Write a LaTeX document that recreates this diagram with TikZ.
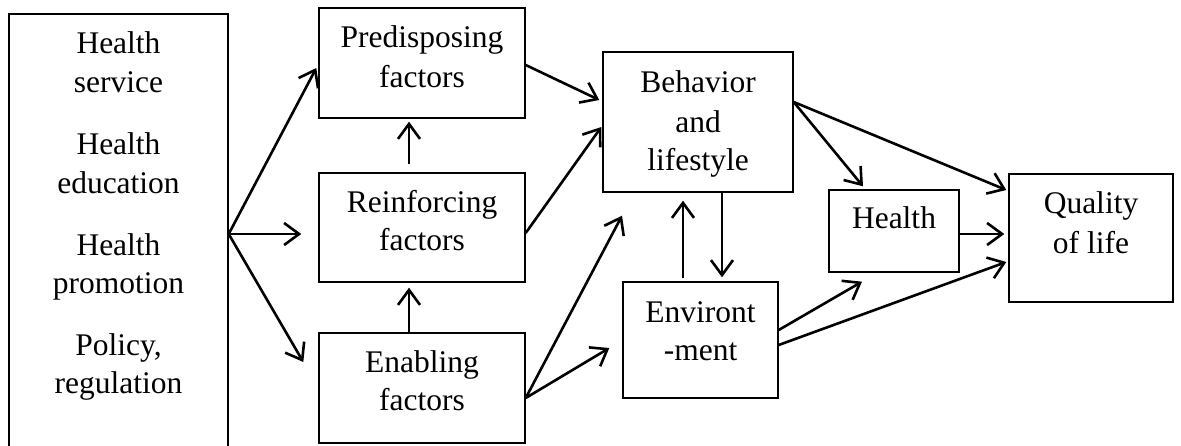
\documentclass[tikz,border=0pt]{standalone}
\usepackage{fontspec}
\setmainfont{Liberation Serif}
\usetikzlibrary{arrows.meta,calc}
\begin{document}
\begin{tikzpicture}[x=1pt,y=-1pt,
  box/.style={draw, line width=1.4pt, rectangle, inner sep=0pt},
  txt/.style={anchor=base, inner sep=0pt, font=\fontsize{31.5}{38}\selectfont},
  arr/.style={line width=2.6pt, -{Straight Barb[length=15pt,width=22pt,line width=2.6pt]}}]
\useasboundingbox (0,0) rectangle (1181,445);
% boxes
\node[box, minimum width=219pt, minimum height=440pt] (left) at (118.5,234) {};
\node[box, minimum width=206pt, minimum height=110pt] (pred) at (422,63) {};
\node[box, minimum width=206pt, minimum height=109pt] (reinf) at (422,227.5) {};
\node[box, minimum width=206pt, minimum height=110pt] (enab) at (422,388) {};
\node[box, minimum width=190pt, minimum height=140pt] (behav) at (698,122) {};
\node[box, minimum width=155pt, minimum height=116pt] (env) at (700.5,340) {};
\node[box, minimum width=130pt, minimum height=82pt] (health) at (894,231) {};
\node[box, minimum width=164pt, minimum height=128pt] (qol) at (1091,238) {};
% texts
\node[txt] (l1) at (118.5,53) {Health};
\node[txt] (l2) at (118.5,92) {service};
\node[txt] (l3) at (118.5,154) {Health};
\node[txt] (l4) at (118.5,193) {education};
\node[txt] (l5) at (118.5,255) {Health};
\node[txt] (l6) at (118.5,293) {promotion};
\node[txt] (l7) at (118.5,355) {Policy,};
\node[txt] (l8) at (118.5,393) {regulation};
\node[txt] (p1) at (422,47) {Predisposing};
\node[txt] (p2) at (422,87) {factors};
\node[txt] (r1) at (422,212) {Reinforcing};
\node[txt] (r2) at (422,250) {factors};
\node[txt] (e1) at (422,372) {Enabling};
\node[txt] (e2) at (422,410) {factors};
\node[txt] (b1) at (698,92) {Behavior};
\node[txt] (b2) at (698,132) {and};
\node[txt] (b3) at (698,170) {lifestyle};
\node[txt] (v1) at (700.5,322) {Environt};
\node[txt] (v2) at (700.5,360) {-ment};
\node[txt] (h1) at (894,228) {Health};
\node[txt] (q1) at (1091,213) {Quality};
\node[txt] (q2) at (1091,253) {of life};
% arrows
\draw[arr] (left.east) -- ($(pred.west)+(-2,5)$);
\draw[arr] (left.east) -- ($(reinf.west)+(-17,6.5)$);
\draw[arr] (left.east) -- ($(enab.west)+(-15,-26)$);
\draw[arr] ($(pred.east)+(0,2)$) -- ($(behav.west)+(-3,-22)$);
\draw[arr] ($(reinf.east)+(0,5.5)$) -- ($(behav.west)+(-1,5)$);
\draw[arr] ($(enab.east)+(0,10)$) -- ($(behav.south)+(-76,23)$);
\draw[arr] ($(enab.east)+(0,10)$) -- ($(env.west)+(-13,8)$);
\draw[arr] ($(reinf.north)+(-13,-8)$) -- ($(pred.south)+(-13,3)$);
\draw[arr] ($(enab.north)+(-13,0)$) -- ($(reinf.south)+(-13,5)$);
\draw[arr] ($(env.north)+(-17.5,-3)$) -- ($(behav.south)+(-15,8)$);
\draw[arr] ($(behav.south)+(24,0)$) -- ($(env.north)+(21.5,-4)$);
\draw[arr] ($(behav.east)+(0,-20)$) -- ($(health.north)+(-31,-3)$);
\draw[arr] ($(behav.east)+(0,-20)$) -- ($(qol.west)+(-2,-48)$);
\draw[arr] ($(health.east)+(0,3)$) -- ($(qol.west)+(-4,-4)$);
\draw[arr] ($(env.east)+(0,-10)$) -- ($(health.south)+(-32,9)$);
\draw[arr] ($(env.east)+(0,5)$) -- ($(qol.west)+(-2,24)$);
\end{tikzpicture}
\end{document}
